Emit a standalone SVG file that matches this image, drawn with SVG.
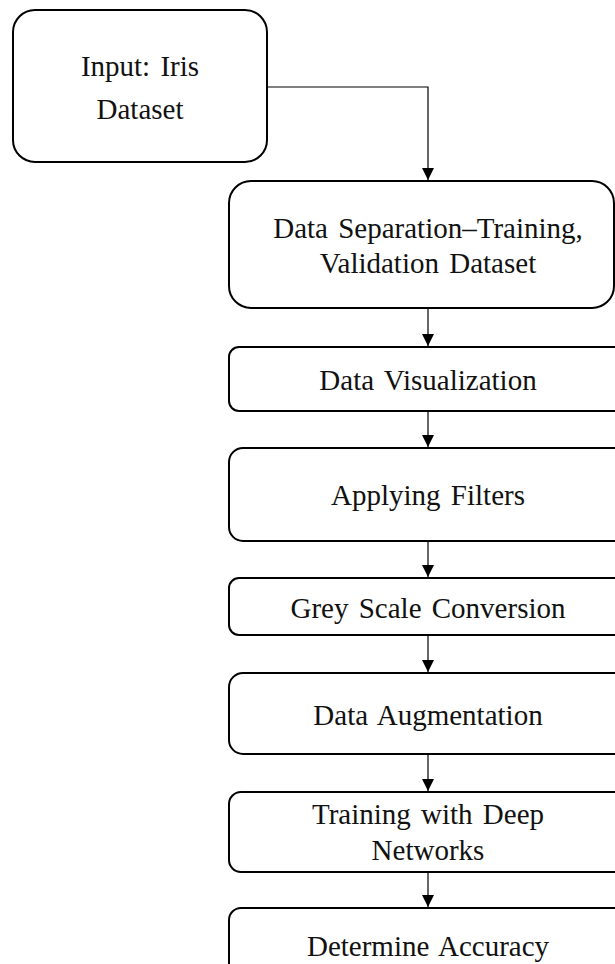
<svg xmlns="http://www.w3.org/2000/svg" width="615" height="964" viewBox="0 0 615 964">
<defs>
<style>
.box{fill:#fff;stroke:#000;stroke-width:2}
text{font-family:'Liberation Serif',Tinos,'Times New Roman',Times,serif;font-size:29px;fill:#111;text-anchor:middle;word-spacing:3px}
.c{fill:none;stroke:#000;stroke-width:1.2}
</style>
<marker id="ah" viewBox="0 0 12 12" refX="12" refY="6" markerWidth="12" markerHeight="12" markerUnits="userSpaceOnUse" orient="auto">
<path d="M0,0 L12,6 L0,12 Z" fill="#000"/>
</marker>
</defs>
<rect width="615" height="964" fill="#fff"/>
<g id="connectors">
<path class="c" d="M267,87 H428 V180" marker-end="url(#ah)"/>
<path class="c" d="M428,308 V346" marker-end="url(#ah)"/>
<path class="c" d="M428,411 V447" marker-end="url(#ah)"/>
<path class="c" d="M428,541 V577" marker-end="url(#ah)"/>
<path class="c" d="M428,635 V672" marker-end="url(#ah)"/>
<path class="c" d="M428,754 V791" marker-end="url(#ah)"/>
<path class="c" d="M428,872 V907" marker-end="url(#ah)"/>
</g>
<g id="n1">
<rect class="box" x="13" y="10" width="254" height="152" rx="22"/>
<text x="140" y="76" font-family="Liberation Serif, serif">Input: Iris</text>
<text x="140" y="119" font-family="Liberation Serif, serif">Dataset</text>
</g>
<g id="n2">
<rect class="box" x="229" y="181" width="385" height="127" rx="22"/>
<text x="428" y="238" font-family="Liberation Serif, serif">Data Separation–Training,</text>
<text x="428" y="273" font-family="Liberation Serif, serif">Validation Dataset</text>
</g>
<g id="n3">
<rect class="box" x="229" y="347" width="400" height="64" rx="10"/>
<text x="428" y="390" font-family="Liberation Serif, serif">Data Visualization</text>
</g>
<g id="n4">
<rect class="box" x="229" y="448" width="400" height="93" rx="14"/>
<text x="428" y="505" font-family="Liberation Serif, serif">Applying Filters</text>
</g>
<g id="n5">
<rect class="box" x="229" y="578" width="400" height="57" rx="10"/>
<text x="428" y="618" font-family="Liberation Serif, serif">Grey Scale Conversion</text>
</g>
<g id="n6">
<rect class="box" x="229" y="673" width="400" height="81" rx="14"/>
<text x="428" y="725" font-family="Liberation Serif, serif">Data Augmentation</text>
</g>
<g id="n7">
<rect class="box" x="229" y="792" width="400" height="80" rx="12"/>
<text x="428" y="824" font-family="Liberation Serif, serif">Training with Deep</text>
<text x="428" y="860" font-family="Liberation Serif, serif">Networks</text>
</g>
<g id="n8">
<rect class="box" x="229" y="908" width="400" height="70" rx="12"/>
<text x="428" y="956" font-family="Liberation Serif, serif">Determine Accuracy</text>
</g>
</svg>
